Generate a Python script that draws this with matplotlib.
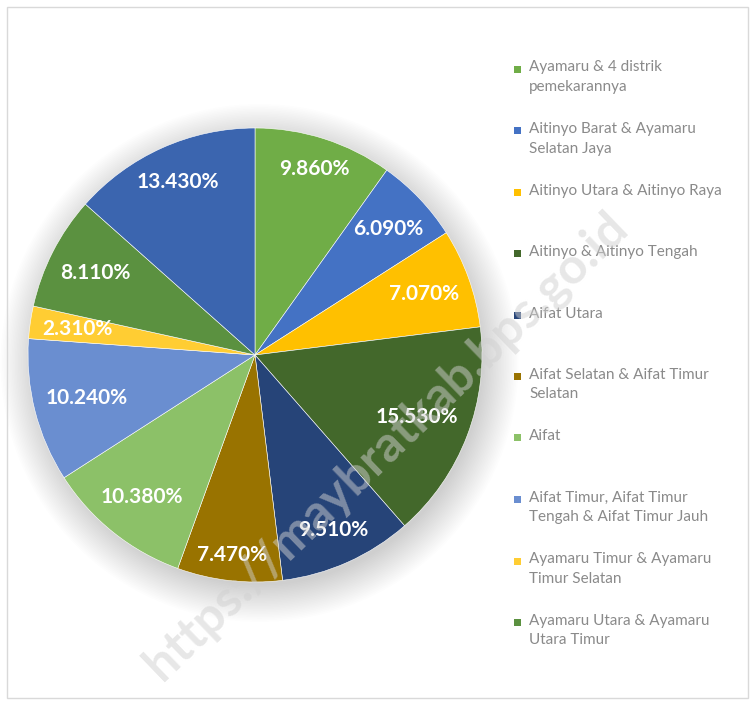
import numpy as np
import matplotlib
matplotlib.use('Agg')
import matplotlib.pyplot as plt
from matplotlib.patches import Rectangle, Circle

# shares per district group (percent)
labels = ['Ayamaru & 4 distrik\npemekarannya',
          'Aitinyo Barat & Ayamaru\nSelatan Jaya',
          'Aitinyo Utara & Aitinyo Raya',
          'Aitinyo & Aitinyo Tengah',
          'Aifat Utara',
          'Aifat Selatan & Aifat Timur\nSelatan',
          'Aifat',
          'Aifat Timur, Aifat Timur\nTengah & Aifat Timur Jauh',
          'Ayamaru Timur & Ayamaru\nTimur Selatan',
          'Ayamaru Utara & Ayamaru\nUtara Timur',
          '']
values = [9.86, 6.09, 7.07, 15.53, 9.51, 7.47, 10.38, 10.24, 2.31, 8.11, 13.43]
colors = ['#70AD47', '#4472C4', '#FFC000', '#43682B', '#264478', '#997300',
          '#8CC168', '#6A8ED0', '#FFCD33', '#5B9140', '#3B65AF']

W, H = 754, 702
fig = plt.figure(figsize=(W/100, H/100), dpi=100)
fig.patch.set_facecolor('white')

# outer chart frame
fig.patches.append(Rectangle((7/W, 4/H), 741/W, 691/H, transform=fig.transFigure,
                             fill=False, edgecolor='#d9d9d9', linewidth=1))

cx, cy, R = 255, 355, 227
ax = fig.add_axes([(cx-R)/W, (H-cy-R)/H, 2*R/W, 2*R/H])

# soft shadow
for k in range(24):
    ax.add_patch(Circle((0.02, -0.035), 0.98 + 0.007*k, color='black',
                        alpha=0.006, lw=0, zorder=0, clip_on=False))

wedges, _ = ax.pie(values, colors=colors, startangle=90, counterclock=False,
                   radius=1, wedgeprops=dict(edgecolor='white', linewidth=0.4))
for w in wedges:
    w.set_zorder(2)
ax.set_xlim(-1, 1)
ax.set_ylim(-1, 1)
ax.set_aspect('equal')
ax.axis('off')

texts = []
for w, v in zip(wedges, values):
    t = ax.text(0, 0, '{:.3f}%'.format(v), ha='center', va='center', color='white',
                fontsize=15, fontweight='bold', family=['Lato', 'DejaVu Sans'], zorder=3)
    texts.append((w, t))

fig.canvas.draw()
r = fig.canvas.get_renderer()
px = 2.0 / (2*R)
pad = 0.05
for w, t in texts:
    bb = t.get_window_extent(r)
    hw, hh = bb.width/2*px, bb.height/2*px
    a = np.deg2rad((w.theta1 + w.theta2)/2)
    d = 1 - pad - (hw*abs(np.cos(a)) + hh*abs(np.sin(a)))
    t.set_position((d*np.cos(a), d*np.sin(a)))

# legend, fixed slots like the original
slot0, slot = 69, 61.5
for i, (lab, c) in enumerate(zip(labels, colors)):
    if not lab:
        continue
    y = slot0 + i*slot
    fig.patches.append(Rectangle((514/W, 1-(y+3.5)/H), 7/W, 7/H,
                                 transform=fig.transFigure, color=c, lw=0))
    fig.text(529/W, 1-(y-8.5)/H, lab, ha='left', va='top', fontsize=11,
             color='#8a8a8a', linespacing=1.5, family=['Lato', 'DejaVu Sans'])

fig.text(386/W, 1-446/H, 'https://maybratkab.bps.go.id', rotation=44,
         ha='center', va='center', fontsize=36, fontweight='bold',
         color='#d0d0d0', alpha=0.5, family=['Lato', 'DejaVu Sans'], zorder=10)

fig.savefig('out.png', dpi=100)
